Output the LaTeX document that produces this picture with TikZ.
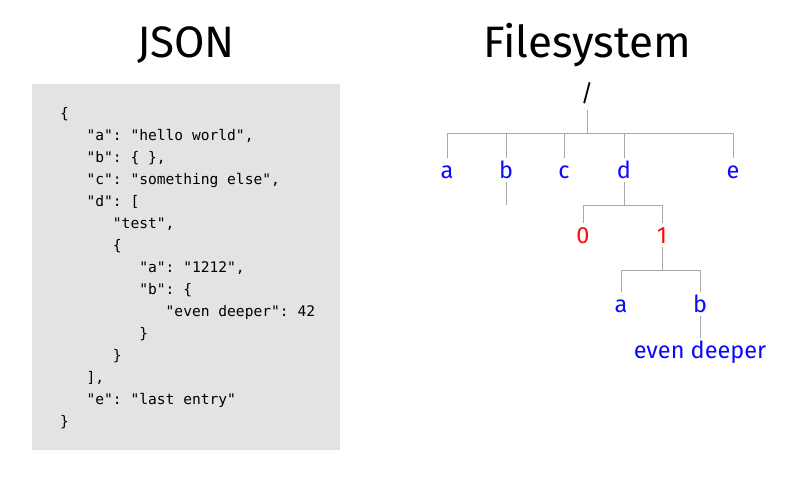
\documentclass[tikz,border=0pt]{standalone}
\usepackage{fontspec}
\setmainfont{Fira Sans}
\setmonofont{DejaVu Sans Mono}
\usepackage{tikz}
\definecolor{boxgray}{HTML}{E3E3E3}
\definecolor{linegray}{HTML}{A8A8A8}
\definecolor{fsblue}{HTML}{0A0AFF}
\definecolor{fsred}{HTML}{FF0A0A}
\newcommand\tab{\phantom{xxx}}

\begin{document}
\begin{tikzpicture}[
    x=1pt, y=-1pt,
    title/.style={font=\fontsize{44}{44}\selectfont, anchor=base, inner sep=0pt},
    codebox/.style={fill=boxgray},
    code/.style={
        font=\ttfamily\fontsize{14.6}{22}\selectfont,
        align=left,
        anchor=base west,
        inner sep=0pt
    },
    entry/.style={
        font=\fontsize{23.5}{23.5}\selectfont,
        text=fsblue,
        inner sep=0pt,
        text height=20pt,
        text depth=4pt,
        anchor=base
    },
    index/.style={entry, text=fsred},
    branch/.style={draw=linegray, line width=1pt}
]
\useasboundingbox (0,0) rectangle (800,479);

\node[title] (jsontitle) at (186, 57) {JSON};
\node[title] (fstitle) at (587, 57) {Filesystem};

\fill[codebox] (32, 84) rectangle (340, 450);
\node[code] (json) at (60, 426) {
\{\\
\tab"a": "hello world",\\
\tab"b": \{ \},\\
\tab"c": "something else",\\
\tab"d": [\\
\tab\tab"test",\\
\tab\tab\{\\
\tab\tab\tab"a": "1212",\\
\tab\tab\tab"b": \{\\
\tab\tab\tab\tab"even deeper": 42\\
\tab\tab\tab\}\\
\tab\tab\}\\
\tab],\\
\tab"e": "last entry"\\
\}
};

\node[entry, text=black, text depth=9pt] (root) at (587, 101) {/};

\node[entry] (a) at (447, 178) {a};
\node[entry] (b) at (506, 178) {b};
\node[entry] (c) at (564, 178) {c};
\node[entry] (d) at (624, 178) {d};
\node[entry] (e) at (733, 178) {e};
\coordinate (bstub) at (506, 205);

\node[index] (d0) at (583, 243) {0};
\node[index] (d1) at (662, 243) {1};

\node[entry] (d1a) at (621, 312) {a};
\node[entry] (d1b) at (700, 312) {b};
\node[entry] (d1bval) at (700, 358) {even deeper};

\foreach \child in {a,b,c,d,e}
    \draw[branch] (root.south) -- ++(0,23) -| (\child.north);
\draw[branch] (b.south) -- (bstub);
\foreach \child in {d0,d1}
    \draw[branch] (d.south) -- ++(0,23) -| (\child.north);
\foreach \child in {d1a,d1b}
    \draw[branch] (d1.south) -- ++(0,23) -| (\child.north);
\draw[branch] (d1b.south) -- (d1bval.north);

\end{tikzpicture}
\end{document}
